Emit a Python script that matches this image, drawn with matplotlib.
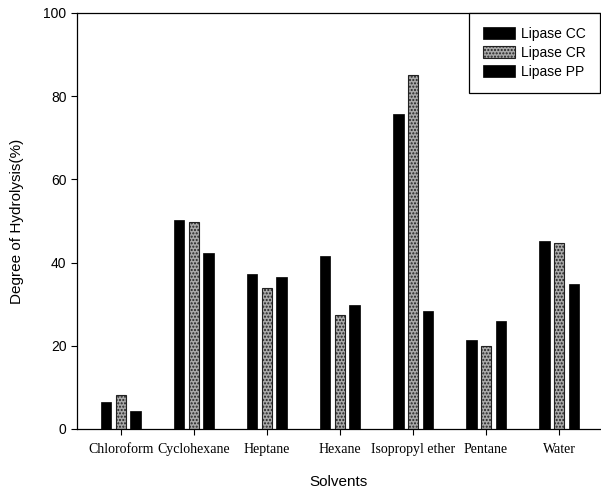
import numpy as np
import matplotlib.pyplot as plt

solvents = ['Chloroform', 'Cyclohexane', 'Heptane', 'Hexane',
            'Isopropyl ether', 'Pentane', 'Water']
lipase_cc = [6.5, 50.2, 37.2, 41.5, 75.8, 21.5, 45.3]
lipase_cr = [8.2, 49.7, 33.8, 27.5, 85.2, 20.0, 44.8]
lipase_pp = [4.3, 42.3, 36.5, 29.8, 28.3, 26.0, 34.8]
yticks = [0, 20, 40, 60, 80, 100]

fig = plt.figure(figsize=(6.01, 4.92), dpi=100)
ax = fig.add_axes([77 / 601, 63 / 492, 523 / 601, 416 / 492])

x = np.arange(len(solvents))
w = 0.14
off = 0.2
ax.bar(x - off, lipase_cc, w, color='black', edgecolor='black', lw=0.5, label='Lipase CC')
ax.bar(x, lipase_cr, w, color='#a9a9a9', edgecolor='#222222', lw=0.8,
       hatch='.....', label='Lipase CR')
ax.bar(x + off, lipase_pp, w, color='black', edgecolor='black', lw=0.5, label='Lipase PP')

ax.set_xlim(-0.6, 6.56)
ax.set_ylim(0, 100)
ax.set_yticks(yticks)
ax.set_xticks(x)
ax.set_xticklabels(solvents, family='Liberation Serif', fontsize=10)
for lab in ax.get_yticklabels():
    lab.set_family('Liberation Sans')
    lab.set_fontsize(10)
ax.tick_params(axis='both', direction='out', length=4, width=0.8)
ax.tick_params(axis='x', pad=6)

ax.spines['right'].set_visible(False)
for s in ['left', 'bottom', 'top']:
    ax.spines[s].set_linewidth(0.9)

ax.set_xlabel('Solvents', family='Liberation Sans', fontsize=11, labelpad=14)
ax.set_ylabel('Degree of Hydrolysis(%)', family='Liberation Sans', fontsize=11, labelpad=14)

leg = ax.legend(loc='upper right', prop={'family': 'Liberation Sans', 'size': 10},
                fancybox=False, edgecolor='black', framealpha=1,
                handlelength=2.3, handleheight=0.9, handletextpad=0.45,
                borderpad=1.0, borderaxespad=0.0, labelspacing=0.35)
leg.get_frame().set_linewidth(0.9)

fig.savefig('out.png', dpi=100)
